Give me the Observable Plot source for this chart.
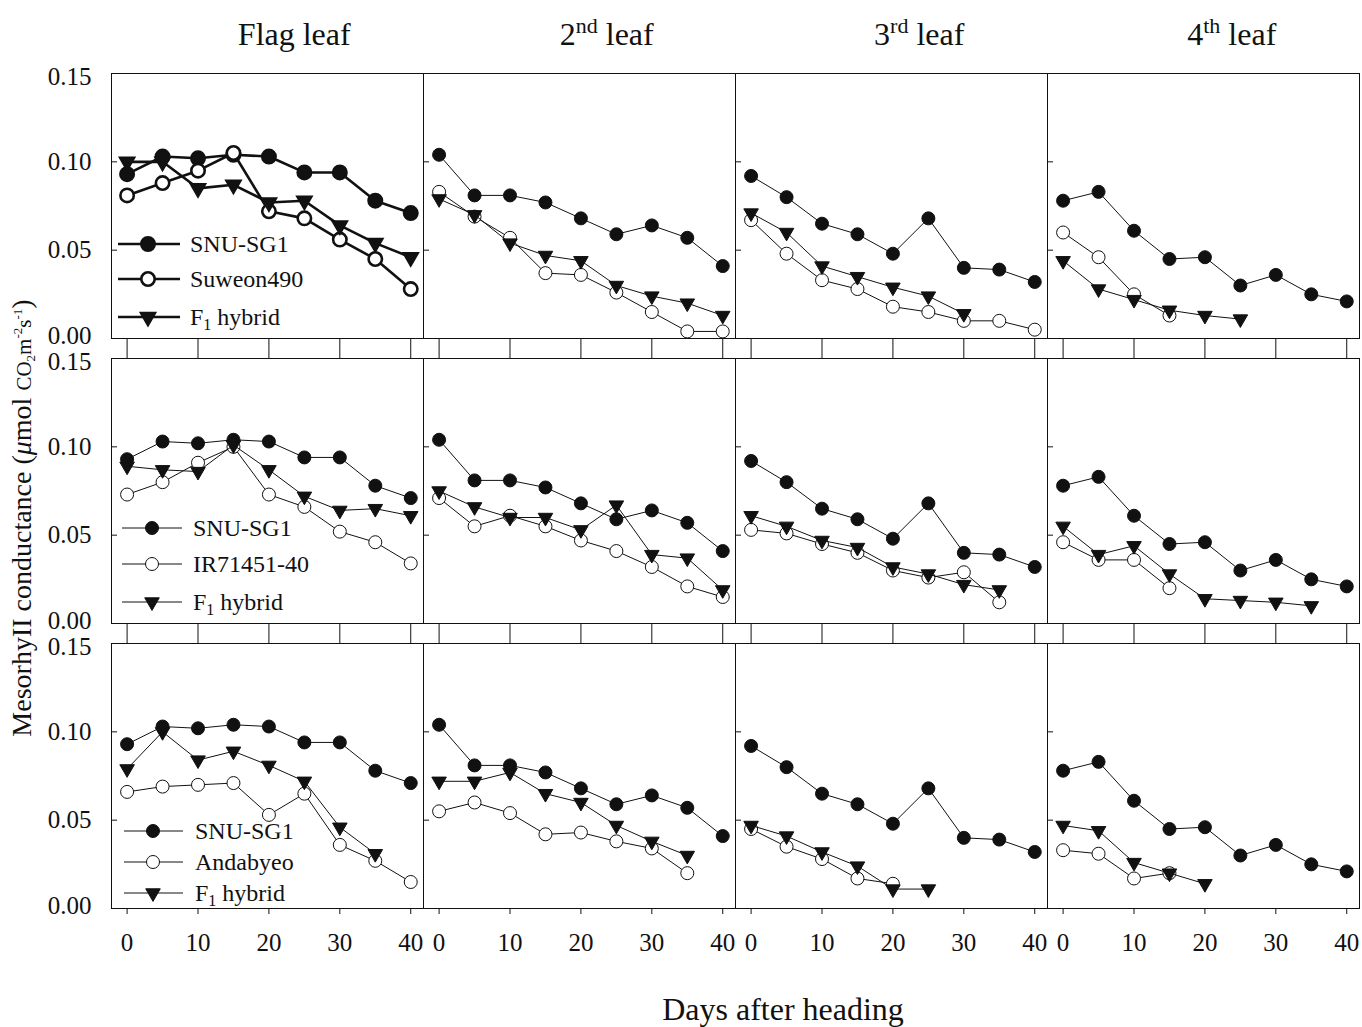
<!DOCTYPE html>
<html>
<head>
<meta charset="utf-8">
<script src="https://cdn.jsdelivr.net/npm/d3@7"></script>
<script src="https://cdn.jsdelivr.net/npm/@observablehq/plot@0.6"></script>
<style>
  html, body { margin: 0; padding: 0; background: #fff; overflow: hidden; }
  #chart svg { display: block; }
</style>
</head>
<body>
<div id="chart"></div>
<script>
// ---------------- data ----------------
const days = [0, 5, 10, 15, 20, 25, 30, 35, 40];
const leafNames = ["Flag leaf", "2nd leaf", "3rd leaf", "4th leaf"];
const titleParts = [["Flag leaf", "", ""], ["2", "nd", " leaf"], ["3", "rd", " leaf"], ["4", "th", " leaf"]];
const rowIds = ["r1", "r2", "r3"];
const parentNames = ["Suweon490", "IR71451-40", "Andabyeo"];
const xTicks = [0, 10, 20, 30, 40];
const yTicksMid = [0.05, 0.10];

// SNU-SG1 (same parent in every row); one array per leaf: Flag, 2nd, 3rd, 4th
const snuSG1 = [
  [0.093, 0.103, 0.102, 0.104, 0.103, 0.094, 0.094, 0.078, 0.071],
  [0.104, 0.081, 0.081, 0.077, 0.068, 0.059, 0.064, 0.057, 0.041],
  [0.092, 0.080, 0.065, 0.059, 0.048, 0.068, 0.040, 0.039, 0.032],
  [0.078, 0.083, 0.061, 0.045, 0.046, 0.030, 0.036, 0.025, 0.021]
];
// Row 1: Suweon490 and its F1 hybrid
const suweon490 = [
  [0.081, 0.088, 0.095, 0.105, 0.072, 0.068, 0.056, 0.045, 0.028],
  [0.083, 0.069, 0.057, 0.037, 0.036, 0.026, 0.015, 0.004, 0.004],
  [0.067, 0.048, 0.033, 0.028, 0.018, 0.015, 0.010, 0.010, 0.005],
  [0.060, 0.046, 0.025, 0.013]
];
const f1Suweon = [
  [0.100, 0.100, 0.085, 0.087, 0.077, 0.078, 0.064, 0.054, 0.046],
  [0.079, 0.070, 0.054, 0.047, 0.044, 0.030, 0.024, 0.020, 0.013],
  [0.071, 0.060, 0.041, 0.035, 0.029, 0.024, 0.014],
  [0.044, 0.028, 0.022, 0.016, 0.013, 0.011]
];
// Row 2: IR71451-40 and its F1 hybrid
const ir71451 = [
  [0.073, 0.080, 0.091, 0.100, 0.073, 0.066, 0.052, 0.046, 0.034],
  [0.071, 0.055, 0.061, 0.055, 0.047, 0.041, 0.032, 0.021, 0.015],
  [0.053, 0.051, 0.045, 0.040, 0.030, 0.026, 0.029, 0.012],
  [0.046, 0.036, 0.036, 0.020]
];
const f1IR = [
  [0.089, 0.087, 0.086, 0.101, 0.087, 0.072, 0.064, 0.065, 0.061],
  [0.075, 0.066, 0.060, 0.060, 0.053, 0.067, 0.039, 0.037, 0.019],
  [0.061, 0.055, 0.047, 0.043, 0.032, 0.028, 0.022, 0.019],
  [0.055, 0.039, 0.044, 0.028, 0.014, 0.013, 0.012, 0.010]
];
// Row 3: Andabyeo and its F1 hybrid
const andabyeo = [
  [0.066, 0.069, 0.070, 0.071, 0.053, 0.065, 0.036, 0.027, 0.015],
  [0.055, 0.060, 0.054, 0.042, 0.043, 0.038, 0.034, 0.020],
  [0.045, 0.035, 0.028, 0.017, 0.014],
  [0.033, 0.031, 0.017, 0.020]
];
const f1Anda = [
  [0.079, 0.100, 0.084, 0.089, 0.081, 0.072, 0.046, 0.031],
  [0.072, 0.072, 0.077, 0.065, 0.060, 0.047, 0.038, 0.030],
  [0.047, 0.041, 0.032, 0.024, 0.011, 0.011],
  [0.047, 0.044, 0.026, 0.020, 0.014]
];

// ---------------- table ----------------
function toRows(series, role, row) {
  const out = [];
  series.forEach((vals, li) => vals.forEach((v, di) => {
    if (v != null) out.push({row, leaf: leafNames[li], role, day: days[di], value: v});
  }));
  return out;
}
const data = [
  ...toRows(snuSG1, "snu", "r1"), ...toRows(suweon490, "parent", "r1"), ...toRows(f1Suweon, "f1", "r1"),
  ...toRows(snuSG1, "snu", "r2"), ...toRows(ir71451, "parent", "r2"), ...toRows(f1IR, "f1", "r2"),
  ...toRows(snuSG1, "snu", "r3"), ...toRows(andabyeo, "parent", "r3"), ...toRows(f1Anda, "f1", "r3")
];
const stripTicks = [];
for (const row of ["r1", "r2"]) for (const leaf of leafNames) for (const t of xTicks) stripTicks.push({row, leaf, day: t});

// ---------------- layout ----------------
const W = 1362, H = 1027;
const ML = 110, MR = 2, MT = 73, MB = 119, GAP = 20;
const BAND = (H - MT - MB - 2 * GAP) / 3;
const COLW = (W - ML - MR) / 4;
const FONT = "'Liberation Serif', 'Times New Roman', serif";
const INK = "#111";
const fmt2 = d3.format(".2f");

const thick = d => d.row === "r1" && d.leaf === "Flag leaf";
const sel = (role, t) => data.filter(d => d.role === role && thick(d) === t);
const XY = {x: "day", y: "value", fx: "leaf", fy: "row"};
const yLab = {anchor: "left", tickFormat: fmt2, tickSize: 0, tickPadding: 20, fontSize: 25, label: null};

const marks = [
  Plot.frame({stroke: INK, strokeWidth: 1}),
  Plot.tickX(stripTicks, {x: "day", fx: "leaf", fy: "row", insetTop: BAND, insetBottom: -GAP, stroke: INK, strokeWidth: 1}),
  Plot.axisY({...yLab, ticks: yTicksMid}),
  Plot.axisY({...yLab, ticks: [0.15], dy: 3}),
  Plot.axisY({...yLab, ticks: [0], dy: -3}),
  Plot.axisY({anchor: "left", ticks: yTicksMid, tickFormat: () => "", tickSize: 6, dx: 6, facetAnchor: null, label: null}),
  Plot.axisX({anchor: "bottom", ticks: xTicks, tickFormat: d3.format("d"), tickSize: 6, tickPadding: 19, fontSize: 25, label: null})
];
for (const role of ["snu", "parent", "f1"]) {
  marks.push(Plot.line(sel(role, false), {...XY, stroke: INK, strokeWidth: 1}));
  marks.push(Plot.line(sel(role, true), {...XY, stroke: INK, strokeWidth: 2.6}));
  if (role === "snu") {
    marks.push(Plot.dot(sel(role, false), {...XY, r: 6.5, fill: INK, stroke: INK, strokeWidth: 1}));
    marks.push(Plot.dot(sel(role, true), {...XY, r: 7, fill: INK, stroke: INK, strokeWidth: 2}));
  } else if (role === "parent") {
    marks.push(Plot.dot(sel(role, false), {...XY, r: 6.5, fill: "white", stroke: INK, strokeWidth: 1}));
    marks.push(Plot.dot(sel(role, true), {...XY, r: 6.7, fill: "white", stroke: INK, strokeWidth: 2.6}));
  } else {
    marks.push(Plot.dot(sel(role, false), {...XY, r: 5.4, symbol: "triangle", rotate: 180, fill: INK, stroke: INK, strokeWidth: 1}));
    marks.push(Plot.dot(sel(role, true), {...XY, r: 5.8, symbol: "triangle", rotate: 180, fill: INK, stroke: INK, strokeWidth: 1.5}));
  }
}

const plot = Plot.plot({
  width: W, height: H,
  marginLeft: ML, marginRight: MR, marginTop: MT, marginBottom: MB,
  style: {fontFamily: FONT, fontSize: "25px", background: "white", color: INK, overflow: "visible"},
  fx: {domain: leafNames, padding: 0, axis: null, label: null},
  fy: {domain: rowIds, paddingInner: GAP / (BAND + GAP), paddingOuter: 0, axis: null, label: null},
  x: {domain: [-2.2, 41.8], label: null},
  y: {domain: [0, 0.15], label: null},
  marks
});
document.getElementById("chart").appendChild(plot);

// ---------------- annotations ----------------
const svg = d3.select(plot);
const g = svg.append("g").attr("font-family", FONT).attr("fill", INK).attr("text-anchor", "start");

// column titles
titleParts.forEach((p, i) => {
  const t = g.append("text").attr("x", ML + i * COLW + COLW / 2 + 28).attr("y", 45)
    .attr("text-anchor", "middle").attr("font-size", 32);
  t.append("tspan").text(p[0]);
  if (p[1]) {
    t.append("tspan").attr("font-size", 22).attr("dy", -12).text(p[1]);
    t.append("tspan").attr("dy", 12).text(p[2]);
  }
});

// x-axis title
g.append("text").attr("x", 783).attr("y", 1020).attr("text-anchor", "middle")
  .attr("font-size", 32).text("Days after heading");

// y-axis title
const yl = g.append("text").attr("transform", "translate(31,518) rotate(-90)")
  .attr("text-anchor", "middle").attr("font-size", 28);
yl.append("tspan").text("MesorhyII conductance (");
yl.append("tspan").attr("font-style", "italic").text("μ");
yl.append("tspan").text("mol ");
yl.append("tspan").attr("font-size", 21).text("CO");
yl.append("tspan").attr("font-size", 13).attr("dy", 4).text("2");
yl.append("tspan").attr("font-size", 21).attr("dy", -4).text("m");
yl.append("tspan").attr("font-size", 13).attr("dy", -9).text("-2");
yl.append("tspan").attr("font-size", 21).attr("dy", 9).text("s");
yl.append("tspan").attr("font-size", 13).attr("dy", -9).text("-1");
yl.append("tspan").attr("dy", 9).text(")");

// legends (inside each Flag-leaf panel)
const legendOffsets = [[-94, -59, -21], [-95, -59, -21], [-77, -46, -15]];
const legendX = [[8, 70, 38, 80], [12, 72, 42, 83], [14, 73, 43, 85]];
rowIds.forEach((r, ri) => {
  const bottom = MT + ri * (BAND + GAP) + BAND;
  const labels = ["SNU-SG1", parentNames[ri], "F1 hybrid"];
  const roles = ["snu", "parent", "f1"];
  const heavy = ri === 0;
  const [lx1, lx2, mx, tx] = legendX[ri];
  roles.forEach((role, k) => {
    const y = bottom + legendOffsets[ri][k];
    g.append("line").attr("x1", ML + lx1).attr("x2", ML + lx2).attr("y1", y).attr("y2", y)
      .attr("stroke", INK).attr("stroke-width", heavy ? 2.6 : 1);
    if (role === "snu") {
      g.append("circle").attr("cx", ML + mx).attr("cy", y).attr("r", heavy ? 7 : 6.5)
        .attr("fill", INK).attr("stroke", INK).attr("stroke-width", heavy ? 2 : 1);
    } else if (role === "parent") {
      g.append("circle").attr("cx", ML + mx).attr("cy", y).attr("r", heavy ? 6.7 : 6.5)
        .attr("fill", "white").attr("stroke", INK).attr("stroke-width", heavy ? 2.6 : 1);
    } else {
      const rr = heavy ? 5.8 : 5.4;
      g.append("path").attr("d", d3.symbol(d3.symbolTriangle, Math.PI * rr * rr)())
        .attr("transform", `translate(${ML + mx},${y}) rotate(180)`)
        .attr("fill", INK).attr("stroke", INK).attr("stroke-width", heavy ? 1.5 : 1);
    }
    const t = g.append("text").attr("x", ML + tx).attr("y", y).attr("dy", "0.35em")
      .attr("text-anchor", "start").attr("font-size", 24);
    if (role === "f1") {
      t.append("tspan").text("F");
      t.append("tspan").attr("font-size", 16).attr("dy", 5).text("1");
      t.append("tspan").attr("dy", -5).text(" hybrid");
    } else {
      t.text(labels[k]);
    }
  });
});
</script>
</body>
</html>
